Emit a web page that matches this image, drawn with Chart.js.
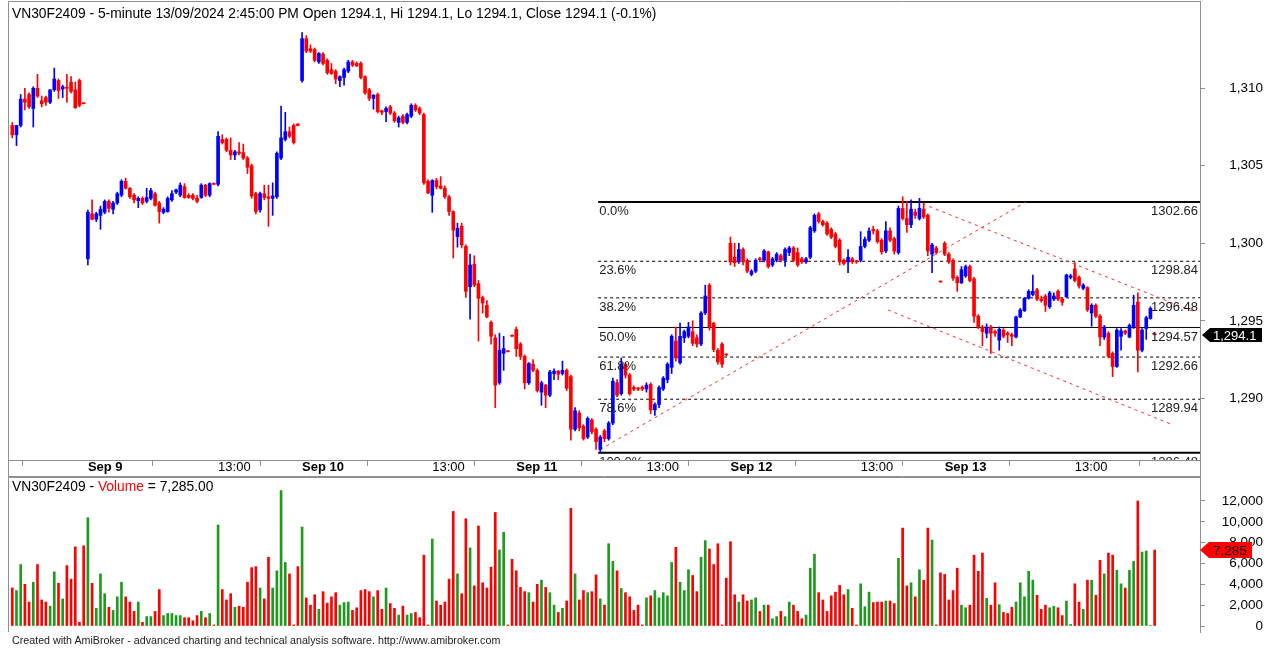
<!DOCTYPE html>
<html>
<head>
<meta charset="utf-8">
<script src="https://cdn.jsdelivr.net/npm/chart.js@4.4.1/dist/chart.umd.min.js"></script>
<style>
  body { margin: 0; background: #fff; width: 1279px; height: 648px; overflow: hidden; position: relative; font-family: Arial, "Liberation Sans", sans-serif; }
  #priceBox { position: absolute; left: 0; top: 0; width: 1279px; height: 477px; }
  #volBox { position: absolute; left: 0; top: 477px; width: 1279px; height: 171px; }
  .title { position: absolute; left: 12px; font-size: 13.8px; color: #000; white-space: nowrap; }
  #footer { position: absolute; left: 12px; top: 634px; font-size: 10.7px; color: #222; white-space: nowrap; }
</style>
</head>
<body>
<div id="priceBox"><canvas id="priceChart" width="1279" height="477"></canvas></div>
<div id="volBox"><canvas id="volumeChart" width="1279" height="171"></canvas></div>
<div class="title" style="top:6px">VN30F2409 - 5-minute 13/09/2024 2:45:00 PM Open 1294.1, Hi 1294.1, Lo 1294.1, Close 1294.1 (-0.1%)</div>
<div class="title" style="top:479px">VN30F2409 - <span style="color:#ff0000">Volume</span> = 7,285.00</div>
<div id="footer">Created with AmiBroker - advanced charting and technical analysis software. http://www.amibroker.com</div>
<script>
// 5-minute bars, [open, high, low, close]
const sep06 = [
  [1307.6,1307.8,1306.8,1307.0],[1307.0,1307.6,1306.3,1307.6],[1307.6,1309.6,1307.5,1309.3],[1309.3,1310.0,1308.6,1309.1],
  [1309.6,1309.7,1308.7,1308.8],[1308.7,1310.1,1307.5,1310.0],[1310.0,1310.9,1309.4,1309.5],[1309.2,1309.5,1308.8,1309.0],
  [1309.4,1309.5,1308.9,1309.1],[1309.1,1309.9,1309.0,1309.9],[1309.9,1311.3,1309.8,1310.6],[1310.5,1310.6,1309.35,1309.85],
  [1309.95,1310.2,1309.4,1310.1],[1310.05,1310.9,1309.1,1310.0],[1310.4,1310.75,1309.7,1309.8],[1309.9,1310.4,1308.7,1308.75],
  [1310.5,1310.6,1308.8,1308.9],[1309.05,1309.05,1309.0,1309.0]
];
const sep09 = [
  [1299.0,1302.15,1298.6,1302.0],[1301.9,1302.8,1301.5,1301.55],[1301.55,1302.0,1301.4,1301.9],[1301.8,1302.4,1300.9,1302.2],
  [1302.0,1302.8,1301.9,1302.7],[1302.7,1302.8,1302.0,1302.25],[1302.2,1302.7,1301.9,1302.6],[1302.6,1303.3,1302.5,1303.2],
  [1303.1,1304.1,1303.0,1304.0],[1304.0,1304.2,1303.5,1303.55],[1303.55,1303.6,1302.9,1303.0],[1303.1,1303.2,1302.6,1302.8],
  [1302.75,1303.0,1302.3,1302.9],[1302.9,1303.0,1302.5,1302.6],[1302.7,1303.55,1302.6,1302.95],[1302.9,1303.55,1302.8,1303.4],
  [1303.2,1303.3,1302.4,1302.45],[1302.6,1302.7,1301.3,1302.05],[1302.0,1302.3,1301.9,1302.2],[1302.05,1303.0,1302.0,1302.9],
  [1302.8,1303.4,1302.7,1303.2],[1303.3,1303.5,1303.2,1303.45],[1303.1,1303.9,1303.0,1303.75],[1303.65,1303.85,1302.9,1302.95],
  [1303.1,1303.2,1302.9,1302.95],[1303.1,1303.2,1302.8,1302.9],[1302.9,1303.1,1302.6,1302.7],[1302.95,1303.85,1302.9,1303.75],
  [1303.75,1303.8,1303.0,1303.1],[1303.1,1303.9,1303.0,1303.85],[1303.85,1303.9,1303.8,1303.8],
  [1303.8,1307.2,1303.7,1306.9],[1306.7,1307.0,1306.4,1306.5],[1306.7,1306.8,1305.9,1306.0],[1306.0,1306.8,1305.4,1305.7],
  [1305.7,1306.0,1305.4,1305.9],[1305.9,1306.5,1305.7,1305.8],[1305.85,1306.4,1305.4,1305.5],[1305.5,1305.6,1304.5,1304.9],
  [1305.0,1305.1,1302.9,1303.05],[1303.2,1303.3,1301.9,1302.05],[1302.15,1303.3,1302.0,1303.2],[1303.2,1303.75,1302.8,1302.95],
  [1303.0,1303.75,1301.1,1302.9],[1302.9,1303.9,1301.8,1303.05],[1303.0,1305.9,1302.9,1305.8],[1305.5,1308.85,1305.4,1306.8],
  [1306.7,1308.45,1306.6,1307.2],[1307.2,1307.5,1306.8,1306.9],[1307.6,1307.7,1306.4,1306.5],[1307.7,1307.7,1307.6,1307.6]
];
const sep10 = [
  [1310.5,1313.6,1310.4,1313.2],[1313.2,1313.4,1312.3,1312.4],[1312.55,1312.8,1312.3,1312.4],[1312.5,1312.6,1311.7,1311.8],
  [1311.7,1312.3,1311.6,1312.25],[1312.2,1312.3,1311.5,1311.6],[1311.8,1311.9,1310.9,1311.0],[1311.2,1311.6,1310.9,1310.95],
  [1311.1,1311.2,1310.3,1310.6],[1310.5,1310.8,1310.1,1310.75],[1310.7,1311.3,1310.2,1311.2],[1311.1,1311.8,1311.0,1311.7],
  [1311.7,1311.8,1311.4,1311.5],[1311.6,1311.7,1311.4,1311.45],[1311.6,1311.7,1310.6,1310.7],[1310.75,1310.8,1309.6,1309.7],
  [1309.9,1310.0,1309.2,1309.35],[1309.35,1309.6,1308.65,1309.55],[1309.6,1309.7,1308.4,1308.5],[1308.55,1308.6,1308.3,1308.45],
  [1308.5,1308.8,1307.85,1308.7],[1308.8,1308.9,1308.3,1308.4],[1308.4,1308.5,1307.8,1307.9],[1307.8,1308.2,1307.5,1308.1],
  [1308.2,1308.3,1307.7,1307.8],[1307.8,1308.4,1307.7,1308.3],[1308.2,1309.0,1308.1,1308.9],[1308.9,1309.0,1308.5,1308.6],
  [1308.7,1308.8,1308.3,1308.4],[1308.3,1308.4,1303.8,1303.9],[1304.0,1304.1,1303.2,1303.25],
  [1303.1,1304.1,1302.0,1304.05],[1304.05,1304.2,1303.5,1303.65],[1303.7,1304.3,1303.5,1303.55],[1303.55,1303.7,1302.9,1303.0],
  [1303.0,1303.1,1301.8,1302.05],[1302.05,1302.1,1299.05,1300.85],[1300.43,1301.3,1299.75,1300.97],[1301.1,1301.3,1299.7,1299.9],
  [1299.8,1299.9,1296.5,1296.9],[1297.2,1299.3,1295.1,1298.6],[1298.65,1299.2,1297.2,1297.3],[1297.4,1297.6,1293.7,1296.45],
  [1296.5,1296.6,1295.5,1296.15],[1296.0,1296.3,1295.2,1295.25],[1294.9,1295.0,1293.5,1294.0],[1293.9,1294.1,1289.4,1290.85],
  [1291.0,1294.2,1290.9,1293.1],[1292.9,1294.0,1291.8,1293.2],[1293.05,1293.1,1293.0,1293.0],[1294.05,1294.1,1294.0,1294.0]
];
const sep11 = [
  [1294.45,1294.6,1292.7,1293.2],[1293.5,1293.6,1292.5,1292.7],[1292.7,1292.8,1290.6,1291.0],[1291.0,1292.3,1290.9,1292.25],
  [1292.2,1292.5,1291.7,1291.8],[1291.8,1291.9,1290.4,1290.5],[1290.4,1291.1,1289.55,1291.0],[1290.85,1290.9,1289.4,1290.2],
  [1290.2,1291.8,1290.1,1291.7],[1291.6,1291.9,1291.2,1291.75],[1291.75,1291.8,1291.2,1291.55],[1291.6,1292.4,1291.5,1291.8],
  [1291.8,1291.9,1290.5,1290.65],[1291.4,1291.5,1287.3,1288.0],[1288.0,1289.4,1287.9,1289.2],[1289.05,1289.2,1287.9,1288.1],
  [1288.2,1288.3,1287.3,1287.4],[1287.5,1288.8,1287.4,1288.7],[1288.6,1288.7,1287.7,1287.85],[1288.0,1288.1,1286.7,1287.2],
  [1286.7,1287.6,1286.48,1287.5],[1287.9,1288.0,1287.2,1287.4],[1287.4,1288.5,1287.3,1288.4],[1288.4,1291.3,1288.3,1291.1],
  [1291.0,1291.2,1290.1,1290.2],[1290.3,1292.6,1290.2,1292.2],[1292.2,1292.3,1291.3,1291.5],[1291.5,1291.6,1290.2,1290.3],
  [1290.7,1290.8,1290.5,1290.6],[1290.65,1290.7,1290.5,1290.6],[1290.7,1290.8,1290.5,1290.6],
  [1290.6,1291.0,1290.4,1290.85],[1290.9,1291.0,1289.0,1289.25],[1289.25,1289.7,1288.9,1289.6],[1289.6,1290.8,1289.4,1290.7],
  [1290.6,1291.4,1290.5,1291.3],[1291.2,1292.3,1291.0,1292.2],[1292.0,1294.1,1291.6,1294.0],[1293.7,1294.6,1292.4,1292.6],
  [1292.3,1294.85,1292.2,1294.0],[1293.9,1294.4,1293.6,1294.3],[1294.0,1294.9,1293.9,1294.6],[1294.3,1295.0,1293.4,1293.55],
  [1293.9,1294.1,1293.3,1293.5],[1293.5,1295.6,1293.4,1295.5],[1295.5,1297.3,1295.4,1296.6],[1297.3,1297.4,1294.4,1294.6],
  [1294.85,1294.9,1293.0,1293.15],[1293.1,1293.2,1292.2,1292.35],[1293.5,1293.6,1292.0,1292.2],[1292.8,1292.85,1292.75,1292.8]
];
const sep12 = [
  [1300.0,1300.4,1298.6,1298.8],[1299.1,1300.0,1298.5,1298.75],[1298.8,1300.0,1298.7,1299.6],[1299.6,1299.7,1298.6,1298.8],
  [1298.9,1299.0,1298.1,1298.2],[1298.0,1298.3,1297.9,1298.2],[1298.2,1299.0,1298.1,1298.9],[1299.0,1299.1,1298.8,1298.95],
  [1298.9,1299.6,1298.8,1299.5],[1299.45,1299.5,1298.4,1298.5],[1298.6,1299.1,1298.5,1299.0],[1298.9,1299.4,1298.8,1299.3],
  [1299.2,1299.3,1298.8,1298.9],[1298.9,1299.7,1298.5,1299.6],[1299.4,1299.8,1299.2,1299.7],[1299.7,1299.8,1298.8,1298.9],
  [1299.4,1299.7,1298.5,1298.6],[1299.0,1299.1,1298.7,1298.8],[1298.8,1299.1,1298.7,1299.0],[1299.1,1301.1,1299.0,1301.0],
  [1300.8,1301.9,1300.7,1301.8],[1301.9,1302.0,1301.3,1301.4],[1301.4,1301.5,1301.1,1301.2],[1301.3,1301.4,1300.5,1300.6],
  [1300.9,1301.0,1300.3,1300.4],[1300.6,1300.7,1299.7,1299.8],[1300.2,1300.3,1298.6,1298.8],[1298.9,1299.0,1298.6,1298.7],
  [1298.8,1299.6,1298.1,1299.1],[1299.0,1299.1,1298.7,1298.8],[1298.85,1298.9,1298.7,1298.8],
  [1298.9,1300.75,1298.8,1299.8],[1299.8,1300.4,1299.7,1300.25],[1300.2,1301.0,1300.1,1300.8],[1300.9,1301.1,1300.6,1300.8],
  [1300.8,1300.9,1300.0,1300.1],[1300.2,1300.3,1299.3,1299.45],[1299.5,1301.4,1299.4,1300.8],[1300.8,1301.0,1300.1,1300.2],
  [1300.3,1300.4,1299.3,1299.5],[1299.4,1302.4,1299.3,1302.25],[1302.25,1303.0,1301.5,1301.6],[1301.6,1302.7,1300.7,1301.2],
  [1301.2,1302.8,1301.0,1302.2],[1302.0,1302.2,1301.6,1301.8],[1301.6,1302.9,1301.5,1302.25],[1302.2,1302.6,1301.6,1301.7],
  [1301.8,1301.9,1299.2,1299.5],[1299.3,1300.0,1298.1,1299.9],[1299.7,1299.8,1299.3,1299.4],[1297.55,1297.55,1297.5,1297.5]
];
const sep13 = [
  [1300.0,1300.1,1299.2,1299.3],[1299.3,1299.4,1298.7,1298.8],[1298.9,1299.0,1297.6,1297.75],[1297.8,1297.9,1296.9,1297.45],
  [1297.45,1298.5,1297.4,1298.3],[1297.9,1298.6,1297.8,1298.5],[1298.5,1298.6,1297.5,1297.6],[1297.7,1297.8,1294.9,1295.3],
  [1295.3,1295.4,1294.5,1294.6],[1294.6,1294.7,1293.4,1294.3],[1294.2,1294.8,1293.9,1294.6],[1294.6,1294.7,1292.9,1294.2],
  [1294.3,1294.4,1294.0,1294.2],[1293.75,1294.6,1293.1,1294.45],[1294.4,1294.5,1293.9,1294.0],[1294.2,1294.3,1293.6,1294.1],
  [1294.1,1294.2,1293.4,1294.0],[1293.95,1295.3,1293.9,1295.25],[1295.25,1295.8,1295.2,1295.7],[1295.65,1296.5,1295.6,1296.45],
  [1296.45,1297.0,1296.4,1296.9],[1296.7,1297.95,1296.6,1296.9],[1297.0,1297.1,1296.3,1296.4],[1296.4,1296.6,1296.2,1296.3],
  [1296.6,1296.7,1295.6,1296.0],[1295.9,1296.9,1295.8,1296.8],[1296.4,1296.8,1296.3,1296.6],[1296.9,1297.0,1296.3,1296.4],
  [1296.4,1296.5,1296.0,1296.2],[1296.55,1298.0,1296.5,1297.95],[1297.8,1298.0,1297.7,1297.9],
  [1298.35,1298.75,1297.5,1297.6],[1297.8,1297.9,1297.1,1297.25],[1297.1,1297.4,1297.0,1297.3],[1297.15,1297.2,1295.6,1295.7],
  [1295.5,1296.1,1294.65,1296.0],[1296.0,1296.1,1295.2,1295.3],[1295.3,1295.4,1293.4,1293.95],[1293.95,1294.7,1293.8,1294.6],
  [1294.2,1294.3,1292.6,1292.7],[1292.9,1293.0,1291.4,1292.05],[1292.05,1294.5,1292.0,1294.4],[1294.0,1294.5,1293.1,1294.35],
  [1294.35,1294.4,1294.1,1294.2],[1293.95,1294.8,1293.9,1294.7],[1294.6,1296.65,1294.5,1296.0],[1296.2,1296.8,1291.7,1293.1],
  [1293.1,1294.5,1293.0,1294.4],[1294.5,1295.3,1293.8,1295.2],[1295.15,1295.9,1295.1,1295.8],[1294.1,1294.1,1294.1,1294.1]
];

// volume per bar
const vol06 = [3650,3400,5900,4000,2300,4200,5900,2500,2300,1900,5200,4100,2600,5800,4500,7600,350,7700];
const vol09 = [10400,4100,1700,5000,3100,1800,1500,2800,4200,2800,2300,1400,2300,350,900,900,1400,3500,1000,1200,1200,1000,1000,800,800,500,1000,1400,800,1200,100,
  9700,3500,2500,3100,1800,1900,1800,4200,5600,5700,3650,2600,6600,3650,5300,13000,6100,5000,100,5700];
const vol10 = [9500,2700,2000,3000,1600,3300,2200,2800,3200,2000,2250,2300,1500,1750,3400,3500,3300,2800,3400,1600,3650,2150,1700,1050,1900,1050,1200,1300,800,6800,100,
  8350,2400,2000,2300,4500,11000,5000,3100,10300,7500,3850,9600,4150,3650,5650,10900,7300,9000,100,6400];
const vol11 = [5300,3700,3300,3200,2300,4000,4400,3700,3200,2000,1300,1700,2400,11300,5000,2500,3400,3200,3300,4900,2600,2000,7900,6200,5300,3600,3200,2800,1500,2000,100,
  2700,2900,3400,2700,3200,2900,6100,7550,4200,3400,5400,4850,3300,6600,8200,7400,5900,7900,100,4600];
const vol12 = [8100,3000,2300,3000,2400,2500,2700,1400,2000,2000,700,900,1400,900,2300,2000,1400,700,1050,5550,6900,3200,2500,1400,2900,3250,3900,3000,3500,1700,100,
  4050,1850,3250,2250,2300,2300,2400,2400,2150,6500,9400,3850,4150,2800,5400,4400,9400,8250,100,5100];
const vol13 = [4950,2500,3400,5550,2000,1750,2000,6800,5250,7000,2650,2000,4150,2050,1300,1200,1800,2300,4150,2800,5250,4400,2950,1600,2000,1750,1900,1750,1000,2400,150,
  4050,2300,1600,4400,4400,2950,6300,5000,7000,6800,5350,4050,3650,5350,6200,12000,7100,7200,50,7285];

const tickBars = [18, 49, 69, 100, 120, 151, 171, 202, 222, 253];
const tickLabels = ['Sep 9', '13:00', 'Sep 10', '13:00', 'Sep 11', '13:00', 'Sep 12', '13:00', 'Sep 13', '13:00'];
const priceTicks = [1290, 1295, 1300, 1305, 1310];
const volumeTicks = [0, 2000, 4000, 6000, 8000, 10000, 12000];

// fibonacci retracement drawn from the Sep 11 low
const fibPct = ['0.0%', '23.6%', '38.2%', '50.0%', '61.8%', '78.6%', '100.0%'];
const fibLevels = [1302.66, 1298.84, 1296.48, 1294.57, 1292.66, 1289.94, 1286.48];
const fibStartBar = 139.5;

// hand-drawn trend lines: [bar, price] pairs
const trendLines = [
  [[140, 1286.7], [241.3, 1302.66]],
  [[216.8, 1302.54], [281.6, 1295.57]],
  [[208.5, 1295.7], [276.4, 1288.28]]
];

const lastClose = 1294.1;
const lastVolume = 7285;

const candles = [].concat(sep06, sep09, sep10, sep11, sep12, sep13);
const volumes = [].concat(vol06, vol09, vol10, vol11, vol12, vol13);

const X_MIN = -1.02, X_MAX = 282.8;
const FONT = 'Arial';
const AXIS_GRAY = '#8f8f8f';
const isUp = i => candles[i][3] > candles[i][0];

function drawFrame(chart, bottom) {
    const { ctx, chartArea: a } = chart;
    ctx.save();
    ctx.strokeStyle = AXIS_GRAY;
    ctx.lineWidth = 1;
    ctx.beginPath();
    ctx.moveTo(a.left + 0.5, bottom);
    ctx.lineTo(a.left + 0.5, a.top + 0.5);
    ctx.lineTo(a.right + 0.5, a.top + 0.5);
    ctx.lineTo(a.right + 0.5, bottom);
    ctx.stroke();
    ctx.restore();
}

// right axes: fixed width, labels right-aligned at x=1263, no extra room above/below the plot
function fitRightAxis(s) {
    s.width = 63;
    s.paddingTop = 0;
    s.paddingBottom = 0;
}

const pricePanel = {
    id: 'pricePanel',
    afterDatasetsDraw(chart) {
        const { ctx, chartArea: a, scales: { x, y } } = chart;
        ctx.save();
        ctx.beginPath();
        ctx.rect(a.left, a.top, a.right - a.left, a.bottom - a.top);
        ctx.clip();
        ctx.font = '13px ' + FONT;
        ctx.fillStyle = '#222';
        ctx.textBaseline = 'top';
        const left = x.getPixelForValue(fibStartBar);
        fibLevels.forEach((lv, j) => {
            const py = y.getPixelForValue(lv) + 3;
            ctx.textAlign = 'left';
            ctx.fillText(fibPct[j], left + 1, py);
            ctx.textAlign = 'right';
            ctx.fillText(lv.toFixed(2), a.right - 2, py);
        });
        ctx.restore();
    },
    afterDraw(chart) {
        const { ctx, chartArea: a, scales: { y } } = chart;
        drawFrame(chart, chart.height);
        ctx.save();
        ctx.strokeStyle = AXIS_GRAY;
        ctx.beginPath();
        ctx.moveTo(a.left, chart.height - 0.5);
        ctx.lineTo(a.right + 1, chart.height - 0.5);
        ctx.stroke();
        // last price tag
        const ty = Math.round(y.getPixelForValue(lastClose));
        const tx = a.right + 2;
        ctx.fillStyle = '#000';
        ctx.beginPath();
        ctx.moveTo(tx, ty);
        ctx.lineTo(tx + 8, ty - 7);
        ctx.lineTo(tx + 60, ty - 7);
        ctx.lineTo(tx + 60, ty + 7);
        ctx.lineTo(tx + 8, ty + 7);
        ctx.closePath();
        ctx.fill();
        ctx.fillStyle = '#fff';
        ctx.font = '13px ' + FONT;
        ctx.textAlign = 'left';
        ctx.textBaseline = 'middle';
        ctx.fillText(lastClose.toLocaleString('en-US', { minimumFractionDigits: 1 }), tx + 11, ty + 1);
        ctx.restore();
    }
};

const volumePanel = {
    id: 'volumePanel',
    afterDraw(chart) {
        const { ctx, chartArea: a, scales: { y } } = chart;
        drawFrame(chart, a.bottom);
        const ty = Math.round(y.getPixelForValue(lastVolume));
        const tx = a.right;
        ctx.save();
        ctx.fillStyle = '#ff0000';
        ctx.beginPath();
        ctx.moveTo(tx, ty);
        ctx.lineTo(tx + 9, ty - 8);
        ctx.lineTo(tx + 52, ty - 8);
        ctx.lineTo(tx + 52, ty + 8);
        ctx.lineTo(tx + 9, ty + 8);
        ctx.closePath();
        ctx.fill();
        ctx.fillStyle = '#1a0000';
        ctx.font = '13.5px ' + FONT;
        ctx.textAlign = 'left';
        ctx.textBaseline = 'middle';
        ctx.fillText(lastVolume.toLocaleString('en-US'), tx + 13, ty + 1);
        ctx.restore();
    }
};

const fibDatasets = fibLevels.map((lv, j) => {
    const edge = j === 0 || j === fibLevels.length - 1;
    return {
        type: 'line',
        data: [{ x: fibStartBar, y: lv }, { x: X_MAX, y: lv }],
        borderColor: '#000',
        borderWidth: edge ? 2 : 1,
        borderDash: (edge || j === 3) ? [] : [3, 3],
        pointRadius: 0,
        order: 3
    };
});

const trendDatasets = trendLines.map(pts => ({
    type: 'line',
    data: pts.map(p => ({ x: p[0], y: p[1] })),
    borderColor: '#ff2a2a',
    borderWidth: 1,
    borderDash: [3, 4],
    pointRadius: 0,
    order: 2
}));

const candleColor = ctx => isUp(ctx.dataIndex) ? '#0000ff' : '#ff0000';

const rightAxis = (min, max, ticks) => ({
    position: 'right',
    min: min,
    max: max,
    afterBuildTicks: s => { s.ticks = ticks.map(v => ({ value: v })); },
    afterFit: fitRightAxis,
    ticks: {
        callback: v => v.toLocaleString('en-US'),
        font: { family: FONT, size: 13.5 },
        color: '#000',
        crossAlign: 'far'
    },
    grid: { drawOnChartArea: false, tickLength: 5, color: AXIS_GRAY },
    border: { color: AXIS_GRAY }
});

new Chart(document.getElementById('priceChart'), {
    type: 'bar',
    data: {
        datasets: [
            {
                data: candles.map((k, i) => ({ x: i, y: [k[0], k[3]] })),
                backgroundColor: candleColor,
                barThickness: 3,
                minBarLength: 1,
                grouped: false,
                order: 0
            },
            {
                data: candles.map((k, i) => ({ x: i, y: [k[2], k[1]] })),
                backgroundColor: candleColor,
                barThickness: 1,
                minBarLength: 1,
                grouped: false,
                order: 1
            },
            ...fibDatasets,
            ...trendDatasets
        ]
    },
    options: {
        responsive: false,
        animation: false,
        layout: { padding: { left: 8, top: 1, right: 16, bottom: 0 } },
        plugins: { legend: { display: false }, tooltip: { enabled: false } },
        scales: {
            x: {
                type: 'linear',
                min: X_MIN,
                max: X_MAX,
                offset: false,
                afterBuildTicks: s => { s.ticks = tickBars.map(v => ({ value: v })); },
                afterFit: s => { s.height = 17; },
                ticks: {
                    autoSkip: false,
                    maxRotation: 0,
                    align: 'start',
                    padding: -6,
                    color: '#000',
                    callback: (v, i) => tickLabels[i],
                    font: c => ({ family: FONT, size: 13, weight: (tickLabels[c.index] || '').startsWith('Sep') ? 'bold' : 'normal' })
                },
                grid: { drawOnChartArea: false, tickLength: 6, color: AXIS_GRAY },
                border: { color: AXIS_GRAY }
            },
            y: rightAxis(1286.02, 1315.63, priceTicks)
        }
    },
    plugins: [pricePanel]
});

new Chart(document.getElementById('volumeChart'), {
    type: 'bar',
    data: {
        datasets: [{
            data: volumes.map((v, i) => ({ x: i, y: v })),
            backgroundColor: ctx => isUp(ctx.dataIndex) ? '#1e9a1e' : '#ff0000',
            barThickness: 2,
            grouped: false
        }]
    },
    options: {
        responsive: false,
        animation: false,
        layout: { padding: { left: 8, top: 0, right: 16, bottom: 16 } },
        plugins: { legend: { display: false }, tooltip: { enabled: false } },
        scales: {
            x: { type: 'linear', min: X_MIN, max: X_MAX, offset: false, display: false },
            y: rightAxis(-576, 14304, volumeTicks)
        }
    },
    plugins: [volumePanel]
});
</script>
</body>
</html>
